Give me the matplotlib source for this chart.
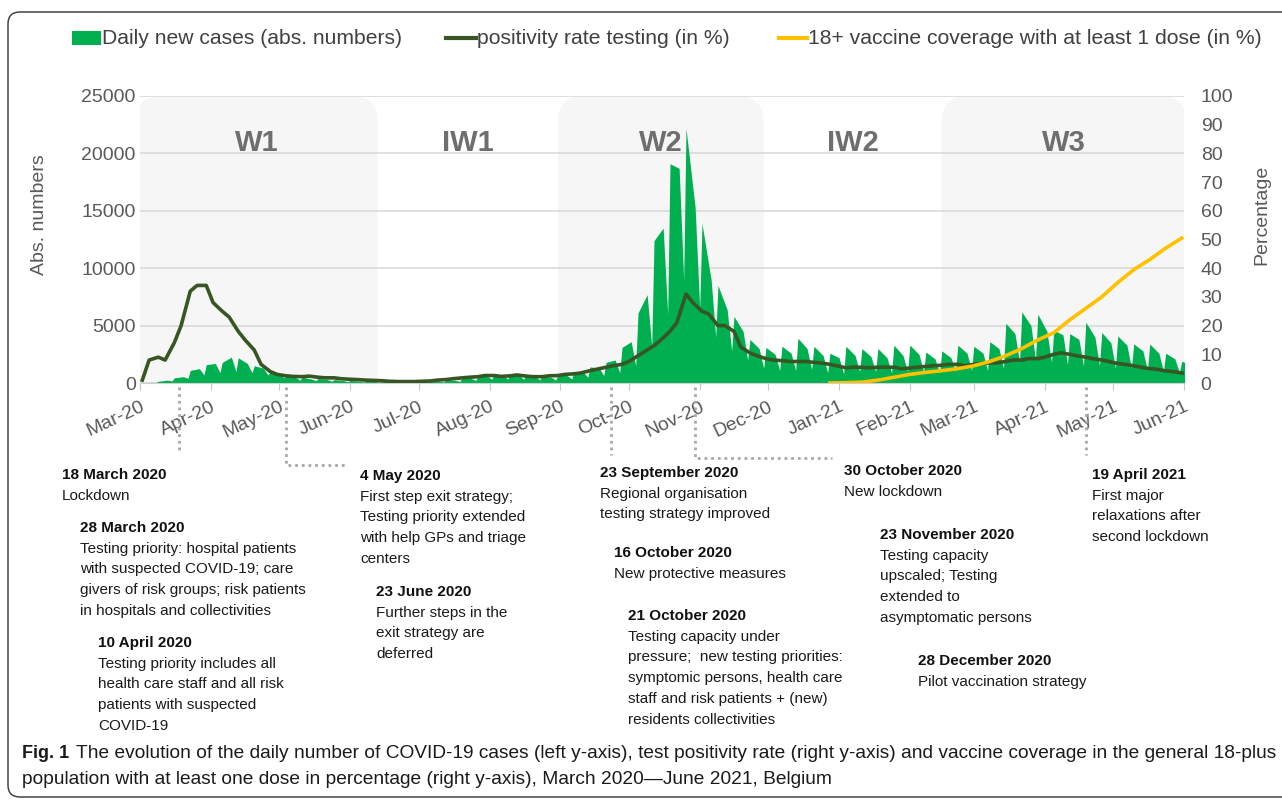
import matplotlib
matplotlib.use("Agg")
import matplotlib.pyplot as plt
from matplotlib.patches import FancyBboxPatch, Rectangle
from matplotlib.lines import Line2D
from matplotlib.transforms import blended_transform_factory, IdentityTransform, Bbox
import matplotlib.dates as mdates
import pandas as pd
import numpy as np

plt.rcParams['font.family'] = ['Liberation Sans', 'DejaVu Sans']

W, H, DPI = 1282, 801, 100

# ---------------- data ----------------
week_mondays = pd.date_range("2020-03-02", "2021-05-31", freq="7D")   # 66 weeks
cases_monday = [5, 150, 450, 1100, 1600, 1800, 2200, 1500, 1000, 700,
                500, 400, 300, 220, 170, 140, 130, 140, 180, 280,
                450, 650, 750, 800, 700, 600, 750, 1000, 1400, 1800,
                3100, 6100, 12400, 19100, 22200, 13900, 8500, 5800, 3800, 3100,
                3200, 3900, 3200, 2600, 3200, 3000, 3000, 3300, 3300, 2700,
                2800, 3300, 3200, 3600, 5200, 6200, 6000, 4600, 4300, 5300,
                4400, 4100, 3400, 3400, 2600, 1900]
cases_friday = [60, 250, 550, 1250, 1700, 2250, 1700, 1300, 800, 500,
                350, 300, 220, 160, 130, 110, 100, 110, 150, 240,
                400, 600, 650, 650, 550, 500, 650, 950, 1300, 2000,
                3600, 7700, 13500, 18700, 15300, 9000, 6400, 4500, 3000, 2500,
                2600, 3000, 2400, 2200, 2400, 2300, 2200, 2400, 2500, 2100,
                2200, 2600, 2600, 3000, 4300, 5000, 4500, 4200, 3800, 4000,
                3500, 3300, 2800, 2600, 2100, 1600]
cases_sunday = [40, 180, 400, 700, 900, 1000, 900, 700, 450, 250,
                200, 150, 120, 90, 70, 60, 60, 70, 90, 130,
                220, 320, 350, 320, 280, 260, 350, 500, 650, 900,
                1500, 3200, 6000, 9000, 6500, 4000, 2800, 2000, 1300, 1100,
                1100, 1200, 900, 800, 1000, 1000, 900, 1000, 1000, 900,
                1000, 1100, 1100, 1300, 1800, 2000, 1800, 1600, 1500, 1500,
                1300, 1300, 1100, 1000, 900, 700]
positivity_monday = [1, 9, 14, 32, 34, 25, 18, 11.5, 4, 2.5,
                     2.2, 2, 1.8, 1.3, 1, 0.8, 0.5, 0.5, 0.7, 1.2,
                     1.8, 2.2, 2.6, 2.5, 2.4, 2.2, 2.6, 3.2, 4.3, 5.5,
                     6.5, 9.5, 13, 18, 31, 25, 20, 18, 10.5, 8.5,
                     7.8, 7.5, 7.2, 6.5, 5.3, 5.5, 5.5, 5.5, 5.2, 5.8,
                     6.2, 6.5, 6.5, 7, 7.5, 8, 8.5, 10, 10, 9,
                     8, 6.8, 6, 5, 4.2, 3.5]
positivity_thursday = [8, 8, 20, 34, 28, 23, 15, 6.5, 3, 2.3,
                       2.4, 1.8, 1.5, 1.2, 0.9, 0.6, 0.5, 0.6, 1, 1.5,
                       2, 2.6, 2.3, 2.8, 2.2, 2.5, 3, 3.5, 4.8, 6,
                       7.5, 11, 15, 21, 28, 24, 20, 12.5, 9.5, 8,
                       7.5, 7.5, 7, 6, 5.5, 5.3, 5.5, 5, 5.5, 6,
                       6.5, 6, 6.8, 7, 8, 8.5, 9, 10.5, 9.5, 8.5,
                       7.5, 6.5, 5.5, 4.8, 4, 3.3]
vaccine_dates = pd.date_range("2020-12-28", "2021-05-31", freq="7D")  # 23 weeks
vaccine_pct = [0, 0.1, 0.3, 1, 2, 3, 3.7, 4.3, 5, 6, 7.5, 9.5, 12, 15,
               17.5, 22, 26, 30, 35, 39.5, 43, 47, 50.5]

month_ticks = pd.date_range("2020-03-01", "2021-06-01", freq="MS")
waves = [("W1", "2020-02-28", "2020-06-13"), ("IW1", "2020-06-13", "2020-08-31"),
         ("W2", "2020-08-31", "2020-11-29"), ("IW2", "2020-11-29", "2021-02-15"),
         ("W3", "2021-02-15", "2021-06-02")]
shaded = {"W1", "W2", "W3"}

events = [
    ("18 March 2020", ["Lockdown"]),
    ("28 March 2020", ["Testing priority: hospital patients", "with suspected COVID-19; care",
                       "givers of risk groups; risk patients", "in hospitals and collectivities"]),
    ("10 April 2020", ["Testing priority includes all", "health care staff and all risk",
                       "patients with suspected", "COVID-19"]),
    ("4 May 2020", ["First step exit strategy;", "Testing priority extended",
                    "with help GPs and triage", "centers"]),
    ("23 June 2020", ["Further steps in the", "exit strategy are", "deferred"]),
    ("23 September 2020", ["Regional organisation", "testing strategy improved"]),
    ("16 October 2020", ["New protective measures"]),
    ("21 October 2020", ["Testing capacity under", "pressure;  new testing priorities:",
                         "symptomic persons, health care", "staff and risk patients + (new)",
                         "residents collectivities"]),
    ("30 October 2020", ["New lockdown"]),
    ("23 November 2020", ["Testing capacity", "upscaled; Testing", "extended to",
                          "asymptomatic persons"]),
    ("28 December 2020", ["Pilot vaccination strategy"]),
    ("19 April 2021", ["First major", "relaxations after", "second lockdown"]),
]
connector_dates = ["2020-03-18", "2020-05-04", "2020-09-23", "2020-10-30", "2021-04-19"]

# ---------------- layout (pixels) ----------------
event_pos = [(62, 475), (80, 528), (98, 643), (360, 476), (376, 592), (600, 473),
             (614, 553), (628, 616), (844, 471), (880, 535), (918, 661), (1092, 475)]
connector_shape = [(452, None), (465, 346), (455, None), (458, 832), (455, None)]

GREEN = "#00b050"
DARK = "#375623"
YELLOW = "#ffc000"
GRAY = "#595959"

fig = plt.figure(figsize=(W / DPI, H / DPI), dpi=DPI)
fig.patch.set_facecolor("white")

AX_L, AX_R, AX_T, AX_B = 140, 1184, 96, 383
ax = fig.add_axes([AX_L / W, 1 - AX_B / H, (AX_R - AX_L) / W, (AX_B - AX_T) / H])
ax2 = ax.twinx()

x0, x1 = pd.Timestamp("2020-03-01"), pd.Timestamp("2021-06-01")
ax.set_xlim(x0, x1)
ax.set_ylim(0, 25000)
ax2.set_ylim(0, 100)

# cases series (Mon peak, Fri, Sun low each week)
c_dates, c_vals = [], []
for m, a, b, c in zip(week_mondays, cases_monday, cases_friday, cases_sunday):
    c_dates += [m, m + pd.Timedelta(days=4), m + pd.Timedelta(days=6)]
    c_vals += [a, b, c]
ax.fill_between(c_dates, 0, c_vals, color=GREEN, lw=0, zorder=2)

# positivity (Mon & Thu each week)
p_dates, p_vals = [], []
for m, a, b in zip(week_mondays, positivity_monday, positivity_thursday):
    p_dates += [m, m + pd.Timedelta(days=3)]
    p_vals += [a, b]
ax2.plot(p_dates, p_vals, color=DARK, lw=2.6, zorder=3, solid_joinstyle="round")
ax2.plot(vaccine_dates, vaccine_pct, color=YELLOW, lw=2.6, zorder=4)

# axes styling
for s in ax.spines.values():
    s.set_visible(False)
for s in ax2.spines.values():
    s.set_visible(False)
ax.spines["bottom"].set_visible(True)
ax.spines["bottom"].set_color("#d0d0d0")
ax.set_axisbelow(True)
ax.yaxis.grid(True, color="#dadada", lw=1.2)
ax.set_yticks(np.arange(0, 25001, 5000))
ax2.set_yticks(np.arange(0, 101, 10))
ax.tick_params(axis="y", length=0, labelsize=14, labelcolor=GRAY, pad=3)
ax2.tick_params(axis="y", length=0, labelsize=14, labelcolor=GRAY, pad=12)
ax.set_xticks(month_ticks)
ax.set_xticklabels([d.strftime("%b-%y") for d in month_ticks])
ax.tick_params(axis="x", length=5, color="#c8c8c8", labelsize=14, labelcolor=GRAY, pad=6)
for lab in ax.get_xticklabels():
    lab.set_rotation(25)
    lab.set_ha("right")
    lab.set_va("top")
    lab.set_rotation_mode("anchor")

fig.text(40 / W, 1 - 215 / H, "Abs. numbers", rotation=90, ha="center", va="center",
         fontsize=14, color=GRAY)
fig.text(1262 / W, 1 - 215 / H, "Percentage", rotation=90, ha="center", va="center",
         fontsize=14, color=GRAY)

# wave shading
fig.canvas.draw()
def px(d):
    return ax.transData.transform((mdates.date2num(pd.Timestamp(d)), 0))[0]
top_disp = H - AX_T
bot_disp = H - AX_B
clip = Bbox.from_extents(0, bot_disp, W, top_disp + 1)
btrans = blended_transform_factory(ax.transData, ax.transAxes)
for name, s, e in waves:
    xs, xe = px(s), px(e)
    if name in shaded:
        p = FancyBboxPatch((xs, bot_disp - 60), xe - xs, top_disp - bot_disp + 60,
                           boxstyle="round,pad=0,rounding_size=26",
                           transform=IdentityTransform(), facecolor="#f6f6f6",
                           edgecolor="none", zorder=0.1)
        p.set_clip_box(clip)
        ax.add_artist(p)
    mid = pd.Timestamp(s) + (pd.Timestamp(e) - pd.Timestamp(s)) / 2
    ax.text(mid, 0.836, name, transform=btrans, ha="center", va="center",
            fontsize=21, fontweight="bold", color="#6e6e6e", zorder=1)

# connectors
for d, (yend, xend) in zip(connector_dates, connector_shape):
    xd = px(d)
    xs_ = [xd, xd]
    ys_ = [H - 387, H - yend]
    if xend is not None:
        xs_.append(xend)
        ys_.append(H - yend)
    fig.add_artist(Line2D(xs_, ys_, transform=IdentityTransform(), color="#a8a8a8",
                          lw=2, linestyle=(0, (1, 1.4))))

# event annotations
LS = 20.7
for (hdr, body), (ex, ey) in zip(events, event_pos):
    fig.text(ex / W, 1 - ey / H, hdr, ha="left", va="center", fontsize=11,
             fontweight="bold", color="#111111")
    for k, line in enumerate(body):
        fig.text(ex / W, 1 - (ey + LS * (k + 1)) / H, line, ha="left", va="center",
                 fontsize=11, color="#1a1a1a")

# legend (manual)
LY = 38
LFS = 15.2
fig.add_artist(Rectangle((72, H - LY - 7), 29, 14, transform=IdentityTransform(),
                         facecolor=GREEN, edgecolor="none"))
fig.text(102 / W, 1 - LY / H, "Daily new cases (abs. numbers)", ha="left", va="center",
         fontsize=LFS, color="#404040")
fig.add_artist(Line2D([446, 476], [H - LY, H - LY], transform=IdentityTransform(),
                      color=DARK, lw=3))
fig.text(477 / W, 1 - LY / H, "positivity rate testing (in %)", ha="left", va="center",
         fontsize=LFS, color="#404040")
fig.add_artist(Line2D([779, 807], [H - LY, H - LY], transform=IdentityTransform(),
                      color=YELLOW, lw=3))
fig.text(808 / W, 1 - LY / H, "18+ vaccine coverage with at least 1 dose (in %)", ha="left",
         va="center", fontsize=LFS, color="#404040")

# outer frame
fig.add_artist(FancyBboxPatch((8, 4), 1320, H - 16, boxstyle="round,pad=0,rounding_size=12",
                              transform=IdentityTransform(), facecolor="none",
                              edgecolor="#444444", lw=1.1))

# caption
cap1 = ("The evolution of the daily number of COVID-19 cases (left y-axis), test positivity rate "
        "(right y-axis) and vaccine coverage in the general 18-plus")
cap2 = ("population with at least one dose in percentage (right y-axis), March 2020\u2014June 2021, "
        "Belgium")
t0 = fig.text(22 / W, 1 - 754 / H, "Fig. 1", ha="left", va="center", fontsize=13,
              fontweight="bold", color="#1a1a1a")
t1 = fig.text(76 / W, 1 - 754 / H, cap1, ha="left", va="center", fontsize=13, color="#1a1a1a")
t2 = fig.text(22 / W, 1 - 780 / H, cap2, ha="left", va="center", fontsize=13, color="#1a1a1a")
fig.canvas.draw()
r = fig.canvas.get_renderer()
w1 = t1.get_window_extent(r).width
fs = 13 * (1272 - 76) / w1
t1.set_fontsize(fs)
t2.set_fontsize(fs)

fig.savefig("out.png", dpi=DPI, facecolor="white")
